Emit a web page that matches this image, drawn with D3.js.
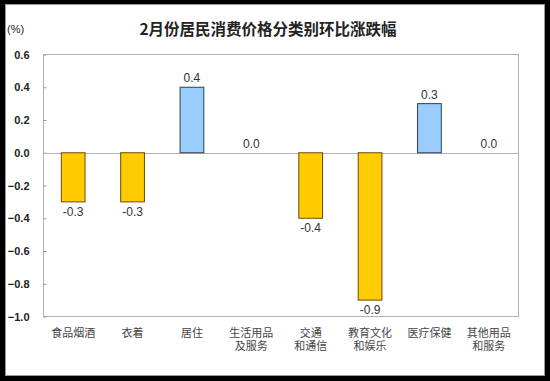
<!DOCTYPE html>
<html><head><meta charset="utf-8">
<script src="https://cdn.jsdelivr.net/npm/d3@7"></script>
<style>
html,body{margin:0;padding:0;background:#000;}
svg{display:block;}
</style>
</head><body>
<svg id="chart" width="550" height="381"></svg>
<script>
const categories = [["食品烟酒"],["衣着"],["居住"],["生活用品","及服务"],["交通","和通信"],["教育文化","和娱乐"],["医疗保健"],["其他用品","和服务"]];
const values = [-0.3,-0.3,0.4,0.0,-0.4,-0.9,0.3,0.0];
const labels = ["-0.3","-0.3","0.4","0.0","-0.4","-0.9","0.3","0.0"];
const yTicks = [0.6,0.4,0.2,0.0,-0.2,-0.4,-0.6,-0.8,-1.0];
const title = "2月份居民消费价格分类别环比涨跌幅";
const unit = "(%)";

const svg = d3.select("#chart");
// frame
svg.append("rect").attr("x",0).attr("y",0).attr("width",550).attr("height",381).attr("fill","#000");
svg.append("rect").attr("x",5.5).attr("y",4.5).attr("width",539).attr("height",371).attr("fill","#fff").attr("stroke","#999").attr("stroke-width",1);

const pLeft=43.5, pRight=518.5, pTop=54.5, pBottom=316.5;
const x = d3.scaleBand().domain(d3.range(categories.length)).range([pLeft,pRight]).paddingInner(0.6).paddingOuter(0.3);
const y = d3.scaleLinear().domain([-1.0,0.6]).range([pBottom,pTop]);

// plot area border
svg.append("rect").attr("x",pLeft).attr("y",pTop).attr("width",pRight-pLeft).attr("height",pBottom-pTop)
  .attr("fill","none").attr("stroke","#b0b0b0").attr("stroke-width",1);

// y axis
const yAxis = d3.axisLeft(y).tickValues(yTicks).tickFormat(d3.format(".1f")).tickSize(-3).tickPadding(14);
const ga = svg.append("g").attr("transform",`translate(${pLeft},0)`).call(yAxis);
ga.select(".domain").remove();
ga.selectAll(".tick line").attr("stroke","#999");
ga.selectAll(".tick text").attr("font-family","Liberation Sans, Arial, sans-serif").attr("font-size",11).attr("fill","#222").attr("font-weight","bold");

// zero line
svg.append("line").attr("x1",pLeft).attr("x2",pRight).attr("y1",Math.round(y(0))+0.5).attr("y2",Math.round(y(0))+0.5)
  .attr("stroke","#b0b0b0").attr("stroke-width",1);

// bars
svg.selectAll("rect.bar").data(values.map((v,i)=>({v,i})).filter(d=>d.v!==0)).enter().append("rect")
  .attr("class","bar")
  .attr("x",d=>x(d.i))
  .attr("width",x.bandwidth())
  .attr("y",d=>Math.min(y(d.v),y(0)))
  .attr("height",d=>Math.abs(y(d.v)-y(0)))
  .attr("fill",d=>d.v>0?"#99CCFF":"#FFCC00")
  .attr("stroke",d=>d.v>0?"#2f3f55":"#6b4a10")
  .attr("stroke-width",1);

// value labels
svg.selectAll("text.val").data(values.map((v,i)=>({v,i}))).enter().append("text")
  .attr("class","val")
  .attr("x",d=>x(d.i)+x.bandwidth()/2)
  .attr("y",d=>d.v>=0? y(d.v)-5 : y(d.v)+14)
  .attr("text-anchor","middle")
  .attr("font-family","Liberation Sans, Arial, sans-serif").attr("font-size",12).attr("fill","#333")
  .text((d)=>labels[d.i]);

// category labels (one text per line)
const catLines = [];
categories.forEach((lines,i)=>lines.forEach((t,j)=>catLines.push({i,j,t})));
svg.selectAll("text.cat").data(catLines).enter().append("text")
  .attr("class","cat")
  .attr("x",d=>x(d.i)+x.bandwidth()/2)
  .attr("y",d=>337+13*d.j)
  .attr("text-anchor","middle")
  .attr("font-family","Noto Sans CJK SC, sans-serif").attr("font-size",11).attr("fill","#444")
  .text(d=>d.t);

// title
svg.append("text").attr("x",268).attr("y",35).attr("text-anchor","middle")
  .attr("font-family","Noto Sans CJK SC, sans-serif").attr("font-size",15.5).attr("font-weight","bold").attr("fill","#222")
  .text(title);
svg.append("text").attr("x",7).attr("y",33)
  .attr("font-family","Liberation Sans, Arial, sans-serif").attr("font-size",11).attr("fill","#222")
  .text(unit);
</script>
</body></html>
